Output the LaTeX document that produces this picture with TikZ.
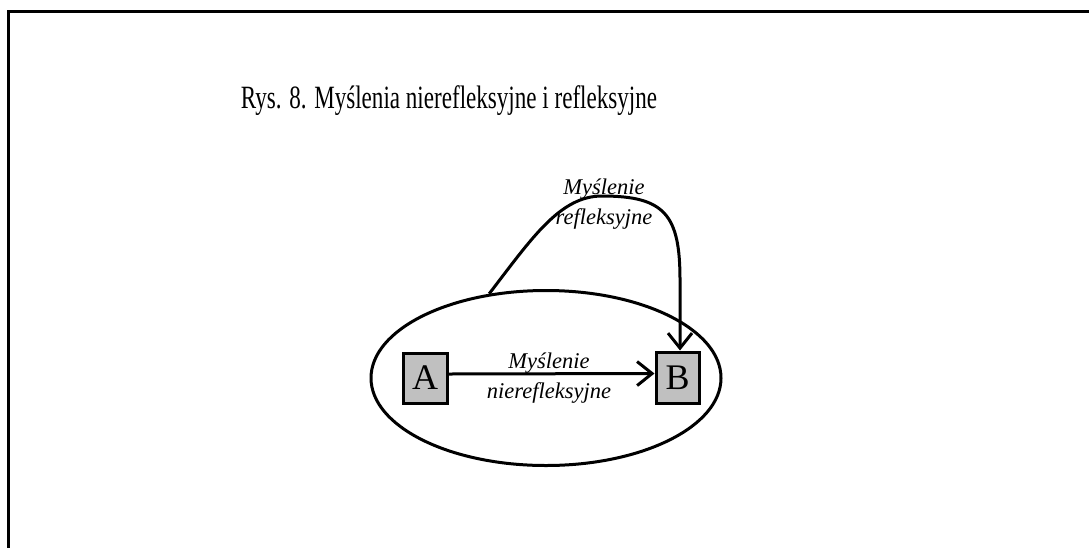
\documentclass[tikz,border=0pt]{standalone}
\usepackage{fontspec}
\setmainfont{Liberation Serif}
\usepackage{graphicx}
\usetikzlibrary{shapes.geometric,arrows.meta}
\definecolor{boxgray}{RGB}{192,192,192}
\tikzset{
 lw/.style={line width=3pt},
 letterbox/.style={draw, lw, fill=boxgray, inner sep=0pt, font=\fontsize{36}{40}\selectfont},
 lbl/.style={align=center, font=\fontsize{22.5}{30}\selectfont\itshape, inner sep=0pt},
 arr/.style={lw, -{Straight Barb[length=15pt,width=24pt]}},
}
\begin{document}
\begin{tikzpicture}[x=1pt,y=-1pt]
\clip (0,0) rectangle (1089,547);
\draw[lw] (8,560) -- (8,11) -- (1100,11);
\node[anchor=base, inner sep=0pt, font=\fontsize{32.5}{38}\selectfont] (title) at (449,108) {\scalebox{0.71}[1]{Rys. 8. Myślenia nierefleksyjne i refleksyjne}};
\node[draw, lw, ellipse, minimum width=350pt, minimum height=175pt, inner sep=0pt] (E) at (546,378) {};
\node[letterbox, minimum width=44pt, minimum height=50pt] (A) at (425,378) {A};
\node[letterbox, minimum width=43pt, minimum height=51pt] (B) at (677.5,377.5) {B};
\draw[arr] ([yshift=4pt]A.east) -- ([yshift=4pt]B.west);
\node[lbl] (n) at (549,378) {Myślenie\\nierefleksyjne};
\draw[arr] (E.124) .. controls (532,238) and (560,196) .. (602,196) .. controls (665,196) and (680,215) .. (680,280) -- ([xshift=2.5pt]B.north);
\node[lbl] (r) at (604,204) {Myślenie\\refleksyjne};
\end{tikzpicture}
\end{document}
